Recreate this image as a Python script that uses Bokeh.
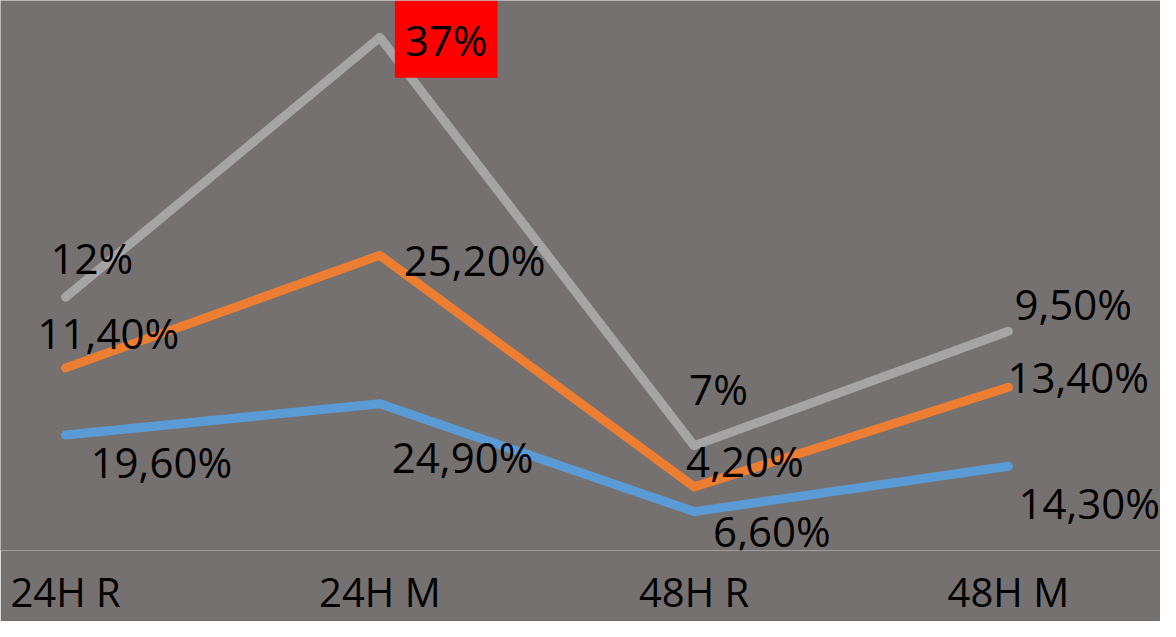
from bokeh.plotting import figure
from bokeh.models import ColumnDataSource, Span, FixedTicker, Range1d
from bokeh.core.properties import value
from bokeh.embed import file_html
from bokeh.resources import INLINE

categories = ["24H R", "24H M", "48H R", "48H M"]
blue = [19.6, 24.9, 6.6, 14.3]
orange = [11.4, 25.2, 4.2, 13.4]
grey = [12, 37, 7, 9.5]
blue_labels = ["19,60%", "24,90%", "6,60%", "14,30%"]
orange_labels = ["11,40%", "25,20%", "4,20%", "13,40%"]
grey_labels = ["12%", "37%", "7%", "9,50%"]

# label pixel offsets (style); text box has 10px padding
blue_dx = [15, 2, 9, 0]
blue_dy = [26, 53, 19, 36]
orange_dx = [-38, 14, -18, -11]
orange_dy = [-35, 4, -26, -11]
grey_dx = [-25, 15, -15, -4]
grey_dy = [-40, 2, -57, -28]

xs = list(range(len(categories)))
orange_top = [b + o for b, o in zip(blue, orange)]
grey_top = [t + g for t, g in zip(orange_top, grey)]

BG = "#767171"
FONT = value("Open Sans")

W, H = 1160, 621
FRAME_H = 548
PX_PER_UNIT = 5.87
y0 = 0
y1 = y0 + FRAME_H / PX_PER_UNIT

p = figure(width=W, height=H, output_backend="svg", toolbar_location=None,
           x_range=Range1d(-0.207, 3.484), y_range=Range1d(y0, y1),
           min_border_left=0, min_border_right=0, min_border_top=0, min_border_bottom=0)
p.background_fill_color = BG
p.border_fill_color = BG
p.outline_line_color = None
p.xgrid.visible = False
p.ygrid.visible = False
p.yaxis.visible = False

xa = p.xaxis[0]
xa.ticker = FixedTicker(ticks=xs)
xa.major_label_overrides = {i: c for i, c in enumerate(categories)}
xa.axis_line_color = None
xa.major_tick_line_color = None
xa.minor_tick_line_color = None
xa.major_tick_out = 0
xa.major_tick_in = 0
xa.major_label_text_font = "Open Sans"
xa.major_label_text_font_size = "40px"
xa.major_label_text_color = "black"
xa.major_label_standoff = 13

p.add_layout(Span(location=0, dimension="width", line_color="#a6a6a6", line_width=1))

series = [
    (blue, "#5b9bd5", blue_labels, blue_dx, blue_dy),
    (orange_top, "#ed7d31", orange_labels, orange_dx, orange_dy),
    (grey_top, "#a5a5a5", grey_labels, grey_dx, grey_dy),
]
for ys, color, labels, dx, dy in series:
    p.line(xs, ys, line_color=color, line_width=9, line_cap="round", line_join="round")

for ys, color, labels, dx, dy in series:
    src = ColumnDataSource(dict(x=xs, y=ys, t=labels, dx=dx, dy=dy,
                                bg=["red" if l == "37%" else None for l in labels]))
    p.text(x="x", y="y", text="t", x_offset="dx", y_offset="dy", source=src,
           text_font=FONT, text_font_size="42px", text_color="black",
           text_align="left", text_baseline="middle",
           background_fill_color="bg", padding=10)

open("out.html", "w").write(file_html(p, INLINE))
